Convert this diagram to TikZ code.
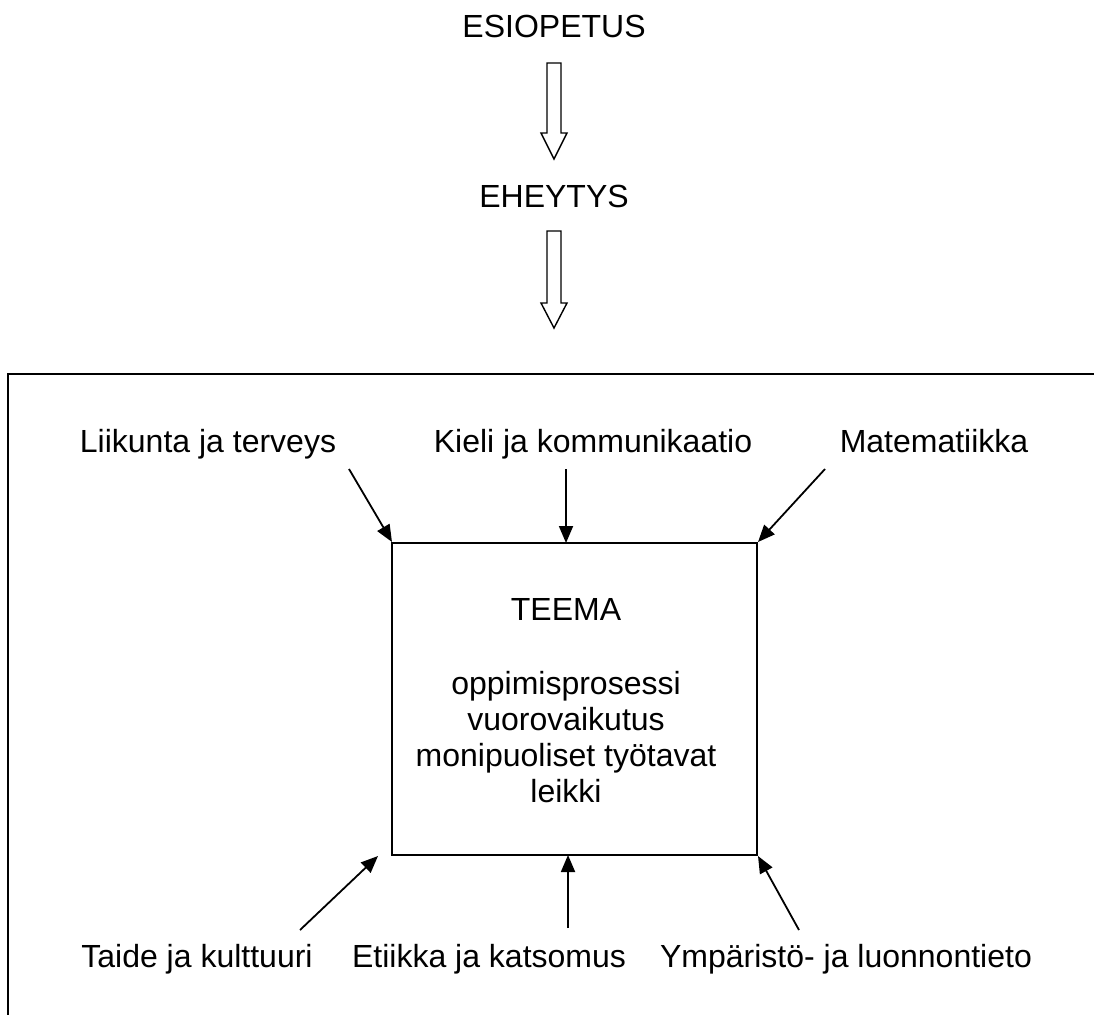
\documentclass[tikz,border=0pt]{standalone}
\usepackage{fontspec}
\setmainfont{Liberation Sans}
\usetikzlibrary{arrows.meta}
\begin{document}
\begin{tikzpicture}[x=1pt,y=-1pt,
  lbl/.style={font=\fontsize{32}{36}\selectfont, inner sep=0pt, anchor=base},
  boxline/.style={line width=1.8pt},
  arr/.style={line width=1.8pt, -{Triangle[length=17pt,width=14pt]}},
  hollow/.style={line width=1.4pt, fill=white, line join=miter}]
\useasboundingbox (0,0) rectangle (1094,1015);
% titles
\node[lbl] (esi) at (554,37) {ESIOPETUS};
\node[lbl] (ehe) at (554,207) {EHEYTYS};
% hollow arrows
\draw[hollow] (547,63) -- (561,63) -- (561,133) -- (567,133) -- (554,159) -- (541,133) -- (547,133) -- cycle;
\draw[hollow] (547,231) -- (561,231) -- (561,303) -- (567,303) -- (554,328) -- (541,303) -- (547,303) -- cycle;
% outer frame (open to right and bottom)
\draw[line width=2pt] (1094,374) -- (8,374) -- (8,1015);
% inner box
\draw[boxline] (392,543) rectangle (757,855);
\coordinate (tl) at (392,542);
\coordinate (tr) at (758,542);
\coordinate (bl) at (378,856);
\coordinate (br) at (758,856);
\coordinate (tm) at (566,543);
\coordinate (bm) at (568,855);
% box text
\node[lbl] (teema) at (566,620) {TEEMA};
\node[lbl] (t1) at (566,694) {oppimisprosessi};
\node[lbl] (t2) at (566,730) {vuorovaikutus};
\node[lbl] (t3) at (566,766) {monipuoliset työtavat};
\node[lbl] (t4) at (566,802) {leikki};
% subject labels
\node[lbl] (lii) at (208,452) {Liikunta ja terveys};
\node[lbl] (kie) at (593,452) {Kieli ja kommunikaatio};
\node[lbl] (mat) at (934,452) {Matematiikka};
\node[lbl] (tai) at (197,967) {Taide ja kulttuuri};
\node[lbl] (eti) at (489,967) {Etiikka ja katsomus};
\node[lbl] (ymp) at (846,967) {Ympäristö- ja luonnontieto};
% arrow starts
\coordinate (s1) at (349,469);
\coordinate (s2) at (566,469);
\coordinate (s3) at (825,469);
\coordinate (s4) at (300,930);
\coordinate (s5) at (568,928);
\coordinate (s6) at (799,930);
\draw[arr] (s1) -- (tl);
\draw[arr] (s2) -- (tm);
\draw[arr] (s3) -- (tr);
\draw[arr] (s4) -- (bl);
\draw[arr] (s5) -- (bm);
\draw[arr] (s6) -- (br);
\end{tikzpicture}
\end{document}
